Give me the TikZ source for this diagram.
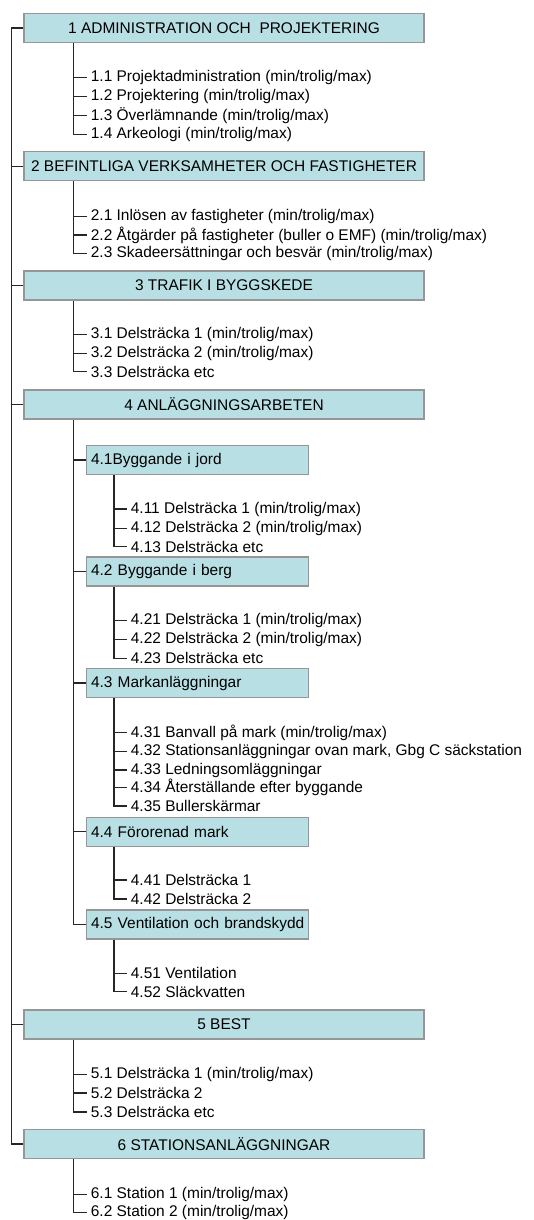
\documentclass[tikz,border=0pt]{standalone}
\usepackage{fontspec}
\setmainfont{Liberation Sans}
\usetikzlibrary{calc}
\definecolor{wbsfill}{RGB}{184,224,228}
\definecolor{wbsline}{RGB}{150,150,150}

\begin{document}
\begin{tikzpicture}[x=0.75pt, y=-0.75pt, font=\fontsize{11.6}{13}\selectfont]
%styles des noeuds
\tikzstyle{mainBox}=[rectangle, draw=wbsline, fill=wbsfill, line width=0.9pt, minimum width=300pt, minimum height=21.75pt, inner sep=0pt]
\tikzstyle{subBox}=[rectangle, draw=wbsline, fill=wbsfill, line width=0.9pt, anchor=west, text width=160pt, align=left, inner xsep=3.35pt, inner ysep=0pt, minimum height=21.75pt]
\tikzstyle{textItem}=[anchor=west, inner xsep=2.7pt, inner ysep=0pt]
\tikzstyle{link}=[line width=0.8pt, black!85]
\useasboundingbox (0,0) rectangle (534,1220);

%niveau 1
\node[mainBox] (b1) at (224,28) {1 ADMINISTRATION OCH~ PROJEKTERING};
\node[mainBox] (b2) at (224,166.2) {2 BEFINTLIGA VERKSAMHETER OCH FASTIGHETER};
\node[mainBox] (b3) at (224,285.5) {3 TRAFIK I BYGGSKEDE};
\node[mainBox] (b4) at (224,404.5) {4 ANLÄGGNINGSARBETEN};
\node[mainBox] (b5) at (224,1024.5) {5 BEST};
\node[mainBox] (b6) at (224,1144) {6 STATIONSANLÄGGNINGAR};

%niveau 2 (4.x)
\node[subBox] (s41) at (86,460) {4.1Byggande i jord};
\node[subBox] (s42) at (86,571.5) {4.2 Byggande i berg};
\node[subBox] (s43) at (86,683) {4.3 Markanläggningar};
\node[subBox] (s44) at (86,831.7) {4.4 Förorenad mark};
\node[subBox] (s45) at (86,924.5) {4.5 Ventilation och brandskydd};

%textes
\node[textItem] (i11) at (87,77.7) {1.1 Projektadministration (min/trolig/max)};
\node[textItem] (i12) at (87,96.7) {1.2 Projektering (min/trolig/max)};
\node[textItem] (i13) at (87,115.3) {1.3 Överlämnande (min/trolig/max)};
\node[textItem] (i14) at (87,134.3) {1.4 Arkeologi (min/trolig/max)};

\node[textItem] (i21) at (87,216.7) {2.1 Inlösen av fastigheter (min/trolig/max)};
\node[textItem] (i22) at (87,235) {2.2 Åtgärder på fastigheter (buller o EMF) (min/trolig/max)};
\node[textItem] (i23) at (87,253.3) {2.3 Skadeersättningar och besvär (min/trolig/max)};

\node[textItem] (i31) at (87,334.3) {3.1 Delsträcka 1 (min/trolig/max)};
\node[textItem] (i32) at (87,353.3) {3.2 Delsträcka 2 (min/trolig/max)};
\node[textItem] (i33) at (87,371.7) {3.3 Delsträcka etc};

\node[textItem] (i411) at (127,509) {4.11 Delsträcka 1 (min/trolig/max)};
\node[textItem] (i412) at (127,528.3) {4.12 Delsträcka 2 (min/trolig/max)};
\node[textItem] (i413) at (127,546.7) {4.13 Delsträcka etc};

\node[textItem] (i421) at (127,620.7) {4.21 Delsträcka 1 (min/trolig/max)};
\node[textItem] (i422) at (127,639.3) {4.22 Delsträcka 2 (min/trolig/max)};
\node[textItem] (i423) at (127,658.3) {4.23 Delsträcka etc};

\node[textItem] (i431) at (127,732.7) {4.31 Banvall på mark (min/trolig/max)};
\node[textItem] (i432) at (127,751.3) {4.32 Stationsanläggningar ovan mark, Gbg C säckstation};
\node[textItem] (i433) at (127,770) {4.33 Ledningsomläggningar};
\node[textItem] (i434) at (127,787.5) {4.34 Återställande efter byggande};
\node[textItem] (i435) at (127,806) {4.35 Bullerskärmar};

\node[textItem] (i441) at (127,880) {4.41 Delsträcka 1};
\node[textItem] (i442) at (127,899) {4.42 Delsträcka 2};

\node[textItem] (i451) at (127,973.3) {4.51 Ventilation};
\node[textItem] (i452) at (127,991.7) {4.52 Släckvatten};

\node[textItem] (i51) at (87,1074.3) {5.1 Delsträcka 1 (min/trolig/max)};
\node[textItem] (i52) at (87,1093) {5.2 Delsträcka 2};
\node[textItem] (i53) at (87,1112) {5.3 Delsträcka etc};

\node[textItem] (i61) at (87,1194.3) {6.1 Station 1 (min/trolig/max)};
\node[textItem] (i62) at (87,1212.7) {6.2 Station 2 (min/trolig/max)};

%tronc principal
\coordinate (t0) at ($(b1.west)+(-11.7,0)$);
\draw[link] (b1.west) -- (t0) |- (b6.west);
\foreach \b in {b2,b3,b4,b5}
  \draw[link] (\b.west) -- (\b.west -| t0);

%branches niveau 1
\coordinate (t1) at ($(b1.south west)+(50,0)$);
\draw[link] (t1) |- (i14.west);
\foreach \n in {i11,i12,i13}
  \draw[link] (\n.west) -- (\n.west -| t1);

\coordinate (t2) at ($(b2.south west)+(50,0)$);
\draw[link] (t2) |- (i23.west);
\foreach \n in {i21,i22}
  \draw[link] (\n.west) -- (\n.west -| t2);

\coordinate (t3) at ($(b3.south west)+(50,0)$);
\draw[link] (t3) |- (i33.west);
\foreach \n in {i31,i32}
  \draw[link] (\n.west) -- (\n.west -| t3);

\coordinate (t4) at ($(b4.south west)+(50,0)$);
\draw[link] (t4) |- (s45.west);
\foreach \n in {s41,s42,s43,s44}
  \draw[link] (\n.west) -- (\n.west -| t4);

\coordinate (t5) at ($(b5.south west)+(50,0)$);
\draw[link] (t5) |- (i53.west);
\foreach \n in {i51,i52}
  \draw[link] (\n.west) -- (\n.west -| t5);

\coordinate (t6) at ($(b6.south west)+(50,0)$);
\draw[link] (t6) |- (i62.west);
\draw[link] (i61.west) -- (i61.west -| t6);

%branches niveau 2
\coordinate (t41) at ($(s41.south west)+(28,0)$);
\draw[link] (t41) |- (i413.west);
\foreach \n in {i411,i412}
  \draw[link] (\n.west) -- (\n.west -| t41);

\coordinate (t42) at ($(s42.south west)+(28,0)$);
\draw[link] (t42) |- (i423.west);
\foreach \n in {i421,i422}
  \draw[link] (\n.west) -- (\n.west -| t42);

\coordinate (t43) at ($(s43.south west)+(28,0)$);
\draw[link] (t43) |- (i435.west);
\foreach \n in {i431,i432,i433,i434}
  \draw[link] (\n.west) -- (\n.west -| t43);

\coordinate (t44) at ($(s44.south west)+(28,0)$);
\draw[link] (t44) |- (i442.west);
\draw[link] (i441.west) -- (i441.west -| t44);

\coordinate (t45) at ($(s45.south west)+(28,0)$);
\draw[link] (t45) |- (i452.west);
\draw[link] (i451.west) -- (i451.west -| t45);
\end{tikzpicture}
\end{document}
